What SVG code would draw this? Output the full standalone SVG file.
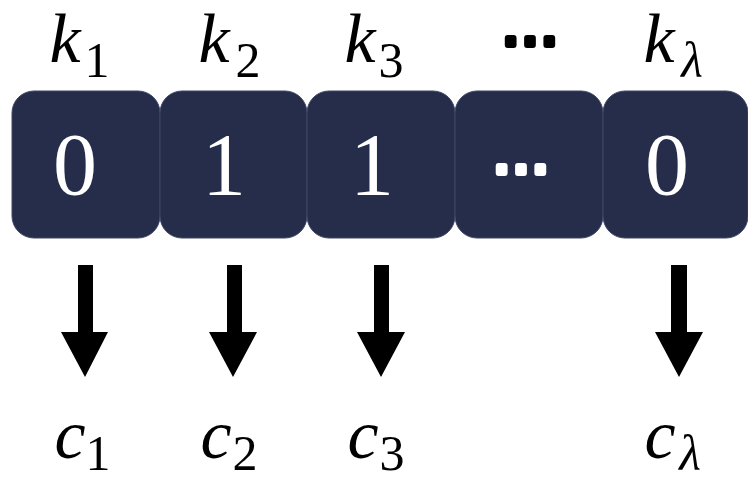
<svg xmlns="http://www.w3.org/2000/svg" width="748" height="479" viewBox="0 0 748 479">
<rect width="748" height="479" fill="#fff"/>
<g id="labels-top" font-family="Liberation Serif" fill="#000" text-anchor="middle">
  <g font-style="italic" font-size="70">
    <text x="65" y="62">k</text>
    <text x="214" y="62">k</text>
    <text x="360" y="62">k</text>
    <text x="659" y="62">k</text>
  </g>
  <g font-size="50">
    <text x="97" y="77">1</text>
    <text x="248" y="77">2</text>
    <text x="391" y="77">3</text>
    <text x="692" y="77" font-style="italic">λ</text>
  </g>
  <text x="530" y="60" font-size="58" font-weight="bold" stroke="#000" stroke-width="4" stroke-linejoin="round">⋯</text>
</g>
<g id="nodes" fill="#252D4B" stroke="#3E4665" stroke-width="1">
  <g id="node1"><rect x="12" y="91" width="148" height="147" rx="22"/><text x="75" y="194" font-family="Liberation Serif" font-size="88" fill="#fff" stroke="none" text-anchor="middle">0</text></g>
  <g id="node2"><rect x="160" y="91" width="147" height="147" rx="22"/><text x="224" y="194" font-family="Liberation Serif" font-size="88" fill="#fff" stroke="none" text-anchor="middle">1</text></g>
  <g id="node3"><rect x="307" y="91" width="148" height="147" rx="22"/><text x="372" y="194" font-family="Liberation Serif" font-size="88" fill="#fff" stroke="none" text-anchor="middle">1</text></g>
  <g id="node4"><rect x="455" y="91" width="148" height="147" rx="22"/><text x="521" y="188" font-family="Liberation Serif" font-size="58" font-weight="bold" fill="#fff" stroke="#fff" stroke-width="4" stroke-linejoin="round" text-anchor="middle">⋯</text></g>
  <g id="node5"><rect x="603" y="91" width="145" height="147" rx="22"/><text x="667" y="194" font-family="Liberation Serif" font-size="88" fill="#fff" stroke="none" text-anchor="middle">0</text></g>
</g>
<g id="connectors" fill="#000">
  <path d="M78 265H93V332H108L85 377L61 332H78Z"/>
  <path d="M227 265H242V332H257L233 377L209 332H227Z"/>
  <path d="M374 265H389V332H405L381 377L357 332H374Z"/>
  <path d="M671 265H687V332H703L679 377L655 332H671Z"/>
</g>
<g id="labels-bottom" font-family="Liberation Serif" fill="#000" text-anchor="middle">
  <g font-style="italic" font-size="70">
    <text x="70" y="458">c</text>
    <text x="216" y="458">c</text>
    <text x="363" y="458">c</text>
    <text x="660" y="458">c</text>
  </g>
  <g font-size="50">
    <text x="98" y="470">1</text>
    <text x="245" y="470">2</text>
    <text x="392" y="470">3</text>
    <text x="690" y="470" font-style="italic">λ</text>
  </g>
</g>
</svg>
